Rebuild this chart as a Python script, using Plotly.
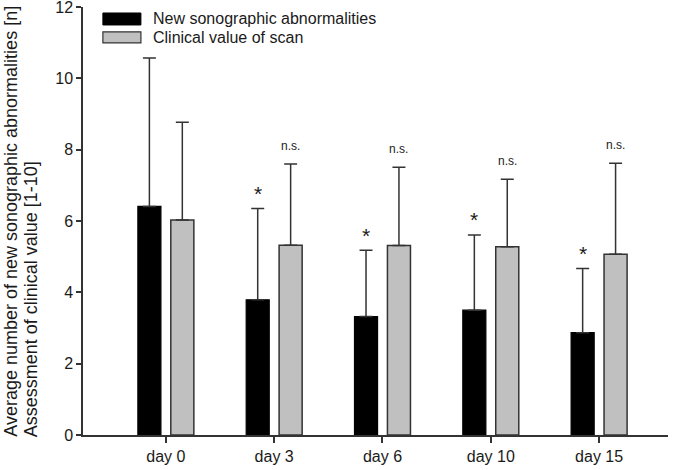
import plotly.graph_objects as go

days = ["day 0", "day 3", "day 6", "day 10", "day 15"]
abn_mean = [6.41, 3.79, 3.32, 3.50, 2.87]
abn_sd = [4.16, 2.56, 1.86, 2.11, 1.80]
clin_mean = [6.03, 5.32, 5.31, 5.28, 5.07]
clin_sd = [2.74, 2.28, 2.20, 1.89, 2.55]
abn_sig = ["", "*", "*", "*", "*"]
clin_sig = ["", "n.s.", "n.s.", "n.s.", "n.s."]
series_names = ["New sonographic abnormalities", "Clinical value of scan"]
y_title_lines = ["Average number of new sonographic abnormalities [n]",
                 "Assessment of clinical value [1-10]"]
y_ticks = [0, 2, 4, 6, 8, 10, 12]

FONT = "Arial, 'Liberation Sans', sans-serif"
TXT = "#1a1a1a"
LINE = "#333333"

fig = go.Figure()
fig.add_trace(go.Bar(
    x=days, y=abn_mean, name=series_names[0],
    marker=dict(color="#000000", line=dict(color="#000000", width=1.2)),
    error_y=dict(type="data", array=abn_sd, arrayminus=[0] * len(abn_sd), symmetric=False,
                 color=LINE, thickness=1.5, width=6.5),
))
fig.add_trace(go.Bar(
    x=days, y=clin_mean, name=series_names[1],
    marker=dict(color="#c0c0c0", line=dict(color=LINE, width=1.5)),
    error_y=dict(type="data", array=clin_sd, arrayminus=[0] * len(clin_sd), symmetric=False,
                 color=LINE, thickness=1.5, width=6.5),
))

annotations = []
for d, m, s, t in zip(days, abn_mean, abn_sd, abn_sig):
    if t:
        annotations.append(dict(x=d, y=m + s, xref="x", yref="y", text=t, showarrow=False,
                                xshift=-16.5, yshift=15, yanchor="middle",
                                font=dict(family=FONT, size=21, color=TXT)))
for d, m, s, t in zip(days, clin_mean, clin_sd, clin_sig):
    if t:
        annotations.append(dict(x=d, y=m + s, xref="x", yref="y", text=t, showarrow=False,
                                xshift=16.5, yshift=18, yanchor="middle",
                                font=dict(family=FONT, size=12, color=TXT)))

# y-axis title: two rotated lines, both starting at the bottom
for line_text, xs in zip(y_title_lines, [-72, -52]):
    annotations.append(dict(
        x=0, y=-0.01, xref="paper", yref="paper", xanchor="center", yanchor="bottom",
        xshift=xs, textangle=-90, showarrow=False,
        text=line_text, font=dict(family=FONT, size=18, color=TXT),
    ))

# manual legend
annotations.append(dict(x=0.117, y=0.972, xref="paper", yref="paper", text=series_names[0],
                        showarrow=False, xanchor="left", yanchor="middle",
                        font=dict(family=FONT, size=16, color=TXT)))
annotations.append(dict(x=0.117, y=0.929, xref="paper", yref="paper", text=series_names[1],
                        showarrow=False, xanchor="left", yanchor="middle",
                        font=dict(family=FONT, size=16, color=TXT)))
shapes = [
    dict(type="rect", xref="paper", yref="paper", x0=0.034, x1=0.099, y0=0.958, y1=0.986,
         fillcolor="#000000", line=dict(color="#000000", width=1)),
    dict(type="rect", xref="paper", yref="paper", x0=0.034, x1=0.099, y0=0.916, y1=0.942,
         fillcolor="#c0c0c0", line=dict(color=LINE, width=1.2)),
]

fig.update_layout(
    width=685, height=470,
    margin=dict(l=83, r=17, t=7, b=35, autoexpand=False),
    paper_bgcolor="white", plot_bgcolor="white",
    barmode="group", bargap=0.392, bargroupgap=0.3,
    showlegend=False,
    font=dict(family=FONT, size=16, color=TXT),
    annotations=annotations, shapes=shapes,
)
fig.update_xaxes(
    type="category", range=[-0.765, 4.636], automargin=False,
    showline=True, linecolor=LINE, linewidth=1.5,
    ticks="outside", ticklen=6, tickwidth=1.5, tickcolor=LINE,
    showgrid=False, zeroline=False, ticklabeloverflow="allow",
    tickfont=dict(family=FONT, size=16, color=TXT),
)
fig.update_yaxes(
    range=[0, 12], tickvals=y_ticks, automargin=False,
    showline=True, linecolor=LINE, linewidth=1.5,
    ticks="outside", ticklen=5, tickwidth=1.5, tickcolor=LINE,
    showgrid=False, zeroline=False, ticklabeloverflow="allow",
    tickfont=dict(family=FONT, size=16, color=TXT),
)

fig.write_html("out.html", config={"displayModeBar": False},
               post_script="document.body.style.margin='0';document.body.style.overflow='hidden';")
